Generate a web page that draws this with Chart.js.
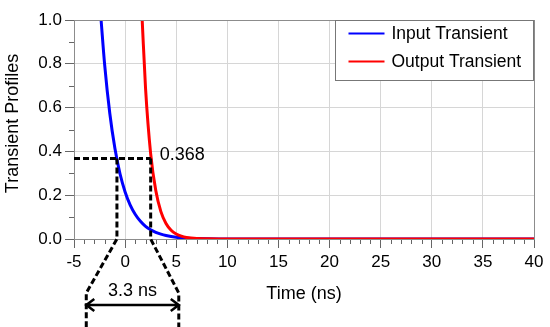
<!DOCTYPE html>
<html>
<head>
<meta charset="utf-8">
<script src="https://cdn.jsdelivr.net/npm/chart.js@4.4.1/dist/chart.umd.min.js"></script>
<style>
    html, body { margin: 0; padding: 0; background: #fff; }
</style>
</head>
<body>
<canvas id="grafico-transiente" width="550" height="327"></canvas>
<script>
// Transient profiles: input vs output, with 1/e delay marked

// Time (ns) and values
const tempoEntrada = [-2.35, -2.0, -1.5, -1.0, -0.5, 0, 0.5, 1.0, 1.5, 2.0, 2.5, 3.0, 3.5, 4.0, 5.0, 6.0, 7.0, 8.0, 10, 40];
const transienteEntrada = [1.0, 0.795, 0.574, 0.414, 0.298, 0.215, 0.155, 0.112, 0.081, 0.058, 0.042, 0.030, 0.022, 0.016, 0.008, 0.004, 0.002, 0.001, 0, 0];

const tempoSaida = [1.67, 2.0, 2.5, 3.0, 3.5, 4.0, 4.5, 5.0, 5.5, 6.0, 7.0, 8.0, 10, 40];
const transienteSaida = [1.0, 0.687, 0.389, 0.221, 0.125, 0.071, 0.040, 0.023, 0.013, 0.007, 0.002, 0.001, 0, 0];

const legendas = ['Input Transient', 'Output Transient'];
const cores = ['#0000ff', '#ff0000'];
const tituloY = 'Transient Profiles';

// 1/e marker
const nivel = 0.368;
const cruzaEntrada = -0.8;
const cruzaSaida = 2.5;
const setaInicio = -3.8;
const setaFim = 5.25;
const textoAtraso = '3.3 ns';

const FONTE = '"Liberation Sans", Arial, sans-serif';

function pares(xs, ys) {
    return xs.map((x, i) => ({ x: x, y: ys[i] }));
}

// Draws minor ticks, frame, y title, 1/e markers and legend box
const extras = {
    id: 'extras',
    afterDatasetsDraw(chart) {
        const ctx = chart.ctx;
        const area = chart.chartArea;
        const sx = chart.scales.x;
        const sy = chart.scales.y;

        ctx.save();
        // minor ticks
        ctx.strokeStyle = '#666';
        ctx.lineWidth = 1;
        ctx.beginPath();
        for (let t = -5; t <= 40; t++) {
            if (t % 5 === 0) continue;
            const px = Math.round(sx.getPixelForValue(t)) + 0.5;
            ctx.moveTo(px, area.bottom);
            ctx.lineTo(px, area.bottom + 5);
        }
        for (let k = 1; k < 10; k += 2) {
            const py = Math.round(sy.getPixelForValue(k / 10)) + 0.5;
            ctx.moveTo(area.left, py);
            ctx.lineTo(area.left - 5, py);
        }
        ctx.stroke();

        // frame
        ctx.strokeStyle = '#8c8c8c';
        ctx.strokeRect(Math.round(area.left) + 0.5, Math.round(area.top) + 0.5,
            Math.round(area.right - area.left), Math.round(area.bottom - area.top));

        // y axis title (sits a little above the centre in the original)
        ctx.save();
        ctx.translate(13, (area.top + area.bottom) / 2 - 6);
        ctx.rotate(-Math.PI / 2);
        ctx.fillStyle = '#000';
        ctx.font = '18px ' + FONTE;
        ctx.textAlign = 'center';
        ctx.textBaseline = 'middle';
        ctx.fillText(tituloY, 0, 0);
        ctx.restore();

        // dashed 1/e lines
        const yN = sy.getPixelForValue(nivel);
        const y0 = sy.getPixelForValue(0);
        const xE = sx.getPixelForValue(cruzaEntrada);
        const xS = sx.getPixelForValue(cruzaSaida);
        const xA = sx.getPixelForValue(setaInicio);
        const xB = sx.getPixelForValue(setaFim);
        const fundo = chart.height;

        ctx.strokeStyle = '#000';
        ctx.lineWidth = 3;
        ctx.setLineDash([6, 3]);
        ctx.beginPath();
        ctx.moveTo(area.left, yN);
        ctx.lineTo(xS, yN);
        ctx.stroke();

        ctx.beginPath();
        ctx.moveTo(xE, yN);
        ctx.lineTo(xE, y0);
        ctx.lineTo(xA, y0 + 54);
        ctx.lineTo(xA, fundo);
        ctx.stroke();

        ctx.beginPath();
        ctx.moveTo(xS, yN);
        ctx.lineTo(xS, y0);
        ctx.lineTo(xB, y0 + 54);
        ctx.lineTo(xB, fundo);
        ctx.stroke();
        ctx.setLineDash([]);

        // double arrow
        const ya = y0 + 66;
        ctx.lineWidth = 2.5;
        ctx.beginPath();
        ctx.moveTo(xA, ya);
        ctx.lineTo(xB, ya);
        ctx.moveTo(xA + 8, ya - 6);
        ctx.lineTo(xA, ya);
        ctx.lineTo(xA + 8, ya + 6);
        ctx.moveTo(xB - 8, ya - 6);
        ctx.lineTo(xB, ya);
        ctx.lineTo(xB - 8, ya + 6);
        ctx.stroke();

        ctx.fillStyle = '#000';
        ctx.font = '18px ' + FONTE;
        ctx.textAlign = 'center';
        ctx.textBaseline = 'alphabetic';
        ctx.fillText(textoAtraso, (xA + xB) / 2, y0 + 57);

        ctx.textAlign = 'left';
        ctx.textBaseline = 'middle';
        ctx.fillText(nivel.toFixed(3), xS + 9, yN - 3);

        // legend box
        const lx = 335.5, ly = 20.5, lw = 198, lh = 60;
        ctx.fillStyle = '#fff';
        ctx.fillRect(lx, ly, lw, lh);
        ctx.strokeStyle = '#777';
        ctx.lineWidth = 1;
        ctx.strokeRect(lx, ly, lw, lh);
        ctx.font = '17.5px ' + FONTE;
        chart.data.datasets.forEach((ds, i) => {
            const yy = ly + 13 + i * 28;
            ctx.strokeStyle = ds.borderColor;
            ctx.lineWidth = 2;
            ctx.beginPath();
            ctx.moveTo(lx + 13, yy);
            ctx.lineTo(lx + 49, yy);
            ctx.stroke();
            ctx.fillStyle = '#000';
            ctx.fillText(ds.label, lx + 56, yy + 1);
        });
        ctx.restore();
    }
};

const ctx = document.getElementById('grafico-transiente').getContext('2d');

new Chart(ctx, {
    type: 'scatter',
    data: {
        datasets: [
            {
                label: legendas[0],
                data: pares(tempoEntrada, transienteEntrada),
                borderColor: cores[0],
                borderWidth: 3,
                showLine: true,
                pointRadius: 0,
                cubicInterpolationMode: 'monotone',
                order: 1
            },
            {
                label: legendas[1],
                data: pares(tempoSaida, transienteSaida),
                borderColor: cores[1],
                borderWidth: 3,
                showLine: true,
                pointRadius: 0,
                cubicInterpolationMode: 'monotone',
                order: 0
            }
        ]
    },
    options: {
        responsive: false,
        animation: false,
        events: [],
        layout: {
            padding: { left: 0, right: 16, top: 20, bottom: 0 }
        },
        plugins: {
            legend: { display: false },
            tooltip: { enabled: false }
        },
        scales: {
            x: {
                type: 'linear',
                min: -5,
                max: 40,
                afterFit: function(scale) { scale.height = 88; },
                grid: {
                    color: '#d6d6d6',
                    tickColor: '#666',
                    tickLength: 9
                },
                border: { color: '#8c8c8c' },
                ticks: {
                    stepSize: 5,
                    color: '#000',
                    padding: 4,
                    font: { family: FONTE, size: 17 }
                },
                title: {
                    display: true,
                    text: 'Time (ns)',
                    color: '#000',
                    font: { family: FONTE, size: 18 },
                    padding: { top: 0, bottom: 22 }
                }
            },
            y: {
                type: 'linear',
                min: 0,
                max: 1,
                afterFit: function(scale) { scale.width = 74; },
                grid: {
                    color: '#d6d6d6',
                    tickColor: '#666',
                    tickLength: 9
                },
                border: { color: '#8c8c8c' },
                ticks: {
                    stepSize: 0.2,
                    color: '#000',
                    padding: 3,
                    font: { family: FONTE, size: 17 },
                    callback: function(valor) { return valor.toFixed(1); }
                },
                title: { display: false }
            }
        }
    },
    plugins: [extras]
});
</script>
</body>
</html>
